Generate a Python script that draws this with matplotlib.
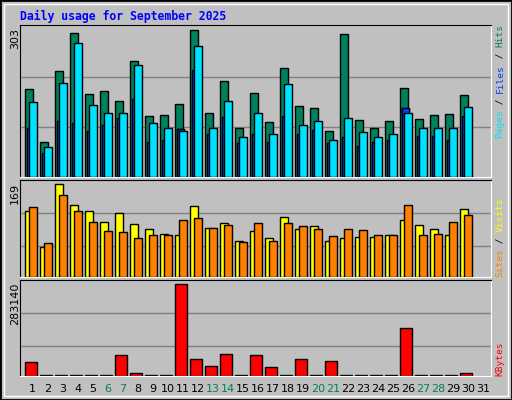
import matplotlib
matplotlib.use("Agg")
import matplotlib.pyplot as plt
from matplotlib.patches import Rectangle
import numpy as np

# --------------------------
# Data
# --------------------------
days = list(range(1, 32))
weekend = [6, 7, 13, 14, 20, 21, 27, 28]

hits = [180, 71, 217, 295, 171, 176, 155, 239, 124, 126, 149, 303, 130, 197, 101,
        173, 112, 223, 145, 141, 93, 293, 116, 101, 114, 182, 118, 126, 128, 167]
files = [153, 60, 192, 276, 147, 130, 130, 229, 110, 101, 93, 270, 99, 155, 81,
         130, 87, 190, 106, 114, 75, 120, 91, 81, 87, 130, 99, 99, 99, 143]
pages = [99, 48, 114, 110, 93, 106, 120, 159, 71, 75, 97, 219, 87, 122, 69,
         87, 71, 124, 87, 95, 69, 81, 62, 71, 75, 141, 83, 83, 75, 124]
visits = [121, 54, 169, 131, 120, 101, 116, 96, 88, 79, 77, 129, 90, 99, 66,
          83, 70, 109, 88, 92, 66, 70, 72, 72, 77, 103, 94, 87, 77, 123]
sites = [127, 61, 149, 121, 101, 83, 81, 70, 77, 77, 103, 107, 90, 94, 63,
         99, 65, 98, 92, 88, 74, 87, 85, 77, 76, 131, 76, 79, 101, 112]
kbytes = [41300, 0, 0, 0, 0, 0, 63000, 7000, 0, 0, 283140, 50600, 29000, 66000, 0,
          63000, 26000, 0, 50600, 0, 44000, 0, 0, 0, 0, 147000, 0, 0, 0, 7000]

# --------------------------
# Style
# --------------------------
BG = "#C0C0C0"
GRID = "#808080"
C_HITS, C_FILES, C_PAGES = "#00805C", "#00E0FF", "#0040FF"
C_VISITS, C_SITES, C_KB = "#FFFF00", "#FF8000", "#FF0000"
W, H = 512, 400
MONO = "DejaVu Sans Mono"

fig = plt.figure(figsize=(W / 100, H / 100), dpi=100)
fig.patch.set_facecolor(BG)
fig.patches.append(Rectangle((0, 0), 1, 1, transform=fig.transFigure, fill=False,
                             edgecolor="black", linewidth=2))
fig.patches.append(Rectangle((4 / W, 4 / H), 1 - 8 / W, 1 - 8 / H, transform=fig.transFigure,
                             fill=False, edgecolor="white", linewidth=1))

fig.text(20 / W, 1 - 16 / H, "Daily usage for September 2025", color="#0000FF",
         family=MONO, fontweight="bold", fontsize=8.3, va="center", ha="left")


def panel(top, bottom, ylim, grids):
    ax = fig.add_axes([20 / W, 1 - bottom / H, 471 / W, (bottom - top) / H])
    ax.set_facecolor(BG)
    ax.set_xlim(0, 471)
    ax.set_ylim(*ylim)
    ax.set_xticks([])
    ax.set_yticks([])
    for g in grids:
        ax.axhline(g, color=GRID, linewidth=1, zorder=0)
    ax.spines["left"].set_color("black")
    ax.spines["top"].set_color("black")
    ax.spines["right"].set_color("white")
    ax.spines["bottom"].set_color("white")
    return ax


def side_label(parts, y_bottom, fs=6.8):
    cw = 0.6 * fs * 100 / 72
    y = y_bottom
    for txt, col in parts:
        fig.text(500 / W, 1 - y / H, txt, color=col, family=MONO, fontsize=fs,
                 rotation=90, ha="center", va="bottom")
        y -= cw * len(txt)


n = len(hits)
base = 5.3 + 15 * np.arange(n)

# --------------------------
# Hits / Files / Pages
# --------------------------
ax1 = panel(25, 177, (-1, 312.3), [101.5, 206])
kw = dict(align="edge", edgecolor="black", linewidth=1)
ax1.bar(base, hits, 7.3, color=C_HITS, zorder=2, **kw)
ax1.bar(base + 1.3, pages, 7.7, color=C_PAGES, zorder=3, **kw)
ax1.bar(base + 4, files, 7.3, color=C_FILES, zorder=4, **kw)
# pages taller than files stay visible on top
over = [i for i in range(n) if pages[i] > files[i]]
ax1.bar(base[over] + 1.3, [pages[i] for i in over], 7.7, color=C_PAGES, zorder=3, **kw)
fig.text(15 / W, 1 - 28 / H, str(max(hits)), rotation=90, ha="center", va="top", fontsize=8)
side_label([("Pages", C_FILES), (" / ", "black"), ("Files", C_PAGES),
            (" / ", "black"), ("Hits", C_HITS)], 138)

# --------------------------
# Visits / Sites
# --------------------------
ax2 = panel(180, 277, (-0.5, 176.9), [55.5, 116])
ax2.bar(base, visits, 7.3, color=C_VISITS, zorder=2, **kw)
ax2.bar(base + 4, sites, 7.3, color=C_SITES, zorder=3, **kw)
fig.text(15 / W, 1 - 183 / H, str(max(visits)), rotation=90, ha="center", va="top", fontsize=8)
side_label([("Sites", C_SITES), (" / ", "black"), ("Visits", C_VISITS)], 277)

# --------------------------
# KBytes
# --------------------------
ax3 = panel(280, 376, (-1000, 296460), [91000, 193000])
kb_drawn = [max(v, 2500) for v in kbytes]  # zero days still show as a thin dash
ax3.bar(base, kb_drawn, 11.3, color=C_KB, zorder=2, **kw)
fig.text(15 / W, 1 - 283 / H, str(max(kbytes)), rotation=90, ha="center", va="top", fontsize=8)
side_label([("KBytes", C_KB)], 376)

# day labels
for d in days:
    x = 20 + 5.3 + 15 * (d - 1) + 7.5
    fig.text(x / W, 1 - 389 / H, str(d), ha="center", va="center", fontsize=8,
             color="#00805C" if d in weekend else "black")

fig.savefig("out.png", dpi=100, facecolor=BG)
